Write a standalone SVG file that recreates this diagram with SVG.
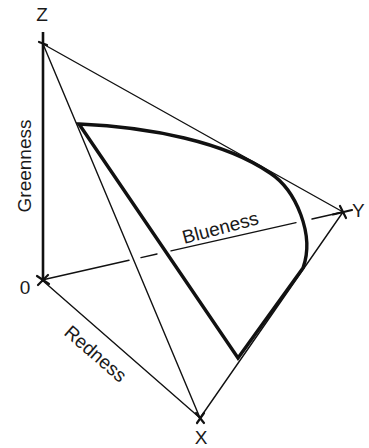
<svg xmlns="http://www.w3.org/2000/svg" width="369" height="448" viewBox="0 0 369 448">
<style>
.thin{stroke:#111;stroke-width:1.4;fill:none;stroke-linecap:round}
.axis{stroke:#111;stroke-width:2.6;fill:none}
.gamut{stroke:#111;stroke-width:3.4;fill:none;stroke-linejoin:miter}
.tick{stroke:#111;stroke-width:2.2;fill:none;stroke-linecap:round}
.lbl{font-family:"Liberation Sans",Arial,sans-serif;font-size:19px;fill:#1a1a1a}
</style>
<rect width="369" height="448" fill="#fff"/>
<g id="connectors">
<line class="axis" x1="43" y1="32" x2="43" y2="282"/>
<line class="thin" x1="43" y1="44" x2="343" y2="212"/>
<line class="thin" x1="43" y1="44" x2="200" y2="418"/>
<line class="thin" x1="42" y1="280" x2="200" y2="418"/>
<line class="thin" x1="200" y1="418" x2="343" y2="212"/>
<g id="blue-axis">
<line class="thin" x1="42" y1="280" x2="129" y2="260.3" stroke-width="1.6"/>
<line class="thin" x1="141" y1="257.6" x2="157" y2="254"/>
<line class="thin" x1="171" y1="250.9" x2="296" y2="222.6" stroke-width="1.6"/>
<line class="thin" x1="312" y1="219" x2="343" y2="212" stroke-width="1.6"/>
</g>
</g>
<g id="gamut">
<path class="gamut" d="M79,124 C150,127 225,142 270,173 C296,190 315,235 303,268 L238,358 Z"/>
</g>
<g id="point-Z">
<line class="tick" x1="39" y1="42" x2="47" y2="45"/>
<text class="lbl" x="42" y="21" text-anchor="middle" font-size="16">Z</text>
</g>
<g id="point-0">
<line class="tick" x1="37" y1="276" x2="49" y2="284"/>
<line class="tick" x1="38" y1="285" x2="48" y2="275"/>
<text class="lbl" x="25" y="294" text-anchor="middle" font-size="20">0</text>
</g>
<g id="point-Y">
<line class="tick" x1="333" y1="214.5" x2="352" y2="210" stroke-width="2.6"/>
<line class="tick" x1="340" y1="206" x2="346" y2="218"/>
<text class="lbl" x="352" y="217">Y</text>
</g>
<g id="point-X">
<line class="tick" x1="196" y1="413" x2="204" y2="423"/>
<line class="tick" x1="204" y1="413" x2="197" y2="423"/>
<text class="lbl" x="201" y="444" text-anchor="middle" font-size="18">X</text>
</g>
<g id="label-greenness">
<text class="lbl" x="31" y="166" text-anchor="middle" transform="rotate(-90 31 166)">Greenness</text>
</g>
<g id="label-blueness">
<text class="lbl" x="222" y="234" text-anchor="middle" transform="rotate(-15 222 234)">Blueness</text>
</g>
<g id="label-redness">
<text class="lbl" x="63" y="334" transform="rotate(41 63 334)">Redness</text>
</g>
</svg>
